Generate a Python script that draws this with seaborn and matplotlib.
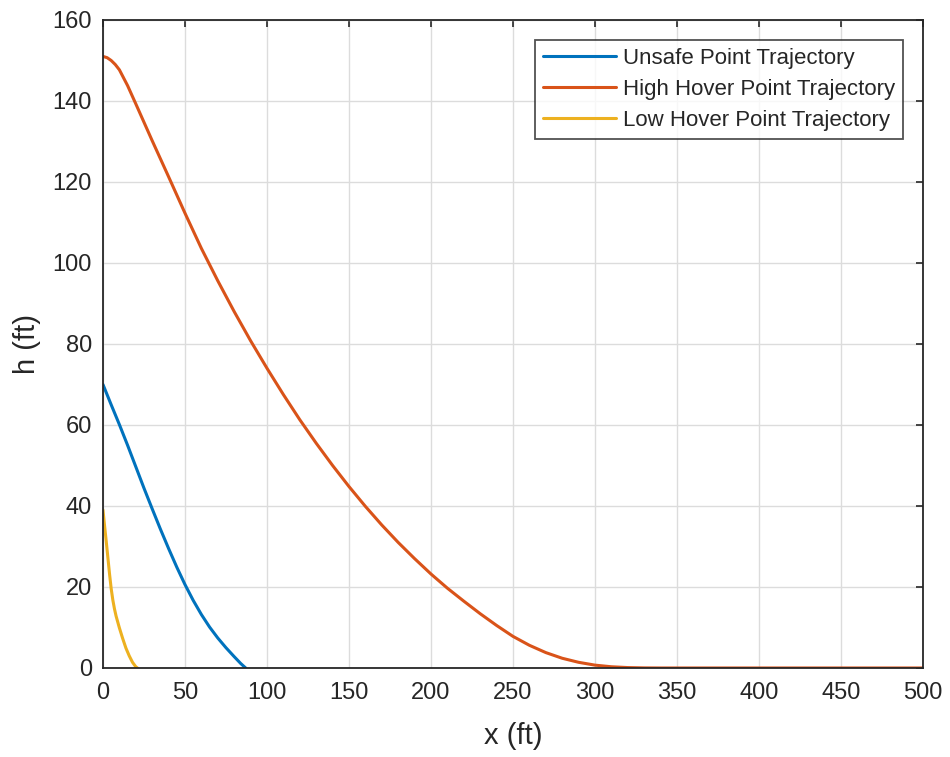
import numpy as np
import pandas as pd
import seaborn as sns
import matplotlib.pyplot as plt

# Data -------------------------------------------------------------------------

unsafe_x = [0, 5, 10, 15, 20, 25, 30, 35, 40, 45, 50, 55, 60, 65, 70, 75, 80,
            84, 87]
unsafe_h = [70, 65, 60.1, 55, 49.7, 44.4, 39.3, 34.3, 29.5, 24.9, 20.6, 16.7,
            13.2, 10.1, 7.4, 5.0, 2.8, 1.1, 0]

high_x = [0, 2.5, 5, 7.5, 10, 15, 20, 30, 40, 50, 60, 70, 80, 90, 100, 110,
          120, 130, 140, 150, 160, 170, 180, 190, 200, 210, 220, 230, 240,
          250, 260, 270, 280, 290, 300, 310, 320, 330, 340, 400, 450, 500]
high_h = [151, 150.7, 150.0, 149.0, 147.7, 143.8, 139.3, 130.2, 121.3, 112.3,
          103.6, 95.6, 88.0, 80.8, 74.0, 67.5, 61.3, 55.5, 50.0, 44.8, 39.9,
          35.3, 31.0, 27.0, 23.2, 19.7, 16.5, 13.4, 10.5, 7.8, 5.6, 3.8, 2.4,
          1.4, 0.7, 0.3, 0.1, 0.02, 0, 0, 0, 0]

low_x = [0, 1, 2, 3, 4, 5, 6, 7, 8, 10, 12, 14, 16, 18, 20, 21]
low_h = [39, 35, 31.2, 27.2, 23.2, 19.6, 16.8, 14.6, 12.8, 9.9, 7.3, 4.9,
         3.0, 1.4, 0.3, 0]

labels = ["Unsafe Point Trajectory", "High Hover Point Trajectory",
          "Low Hover Point Trajectory"]
colors = ["#0072BD", "#D95319", "#EDB120"]

x_ticks = list(range(0, 501, 50))
y_ticks = list(range(0, 161, 20))

# Plot --------------------------------------------------------------------------

sns.set_theme(style="white")
plt.rcParams['font.family'] = ['Liberation Sans', 'DejaVu Sans']

fig = plt.figure(figsize=(9.5, 7.57), dpi=100)
ax = fig.add_axes([0.1084, 0.1176, 0.8632, 0.856])

series = [(unsafe_x, unsafe_h), (high_x, high_h), (low_x, low_h)]
for (xs, hs), lab, col in zip(series, labels, colors):
    df = pd.DataFrame({"x": xs, "h": hs})
    sns.lineplot(data=df, x="x", y="h", ax=ax, color=col, lw=2.2,
                 label=lab, sort=False, estimator=None)

ax.set_xlim(0, 500)
ax.set_ylim(0, 160)
ax.set_xticks(x_ticks)
ax.set_yticks(y_ticks)
ax.grid(True, color="#dcdcdc", lw=1)
ax.set_axisbelow(True)

for s in ax.spines.values():
    s.set_color("#262626")
    s.set_linewidth(1.3)
ax.tick_params(direction="in", length=5, width=1.2, color="#262626",
               labelsize=17, labelcolor="#262626", top=True, right=True)
ax.tick_params(axis="x", pad=10)
ax.tick_params(axis="y", pad=8)

ax.set_xlabel("x (ft)", fontsize=21, color="#262626", labelpad=13)
ax.set_ylabel("h (ft)", fontsize=21, color="#262626", labelpad=8)

leg = ax.legend(loc="upper right", bbox_to_anchor=(0.9756, 0.969),
                borderaxespad=0, fontsize=16, handlelength=3.3,
                handletextpad=0.3, frameon=True, fancybox=False,
                edgecolor="#262626", borderpad=0.35, labelspacing=0.45)
leg.get_frame().set_linewidth(1.3)

fig.savefig("out.png", dpi=100)
